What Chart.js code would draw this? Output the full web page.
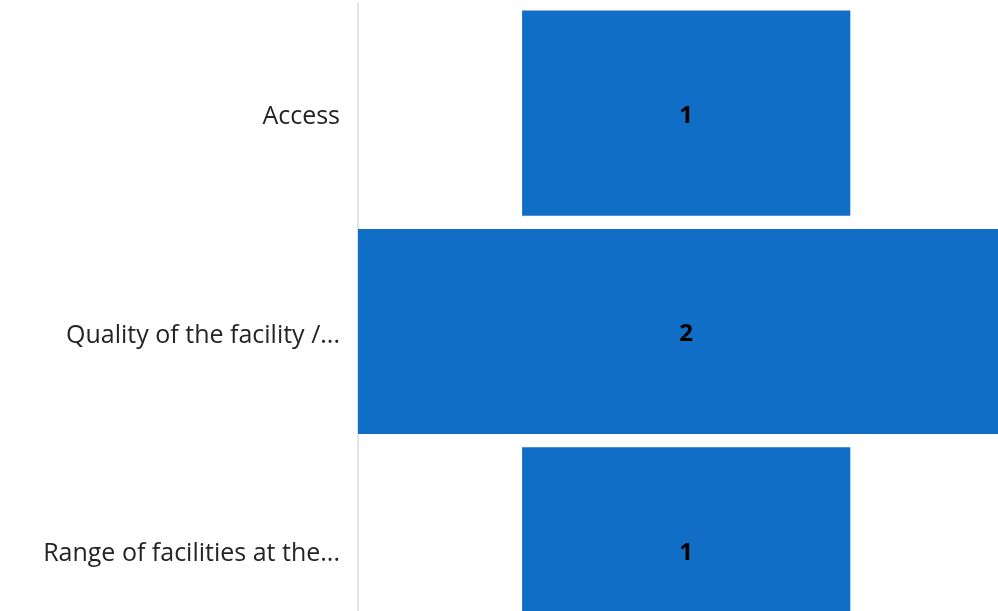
<!DOCTYPE html>
<html>
<head>
<meta charset="utf-8">
<script src="https://cdn.jsdelivr.net/npm/chart.js@4.4.0/dist/chart.umd.min.js"></script>
<style>
  html, body { margin: 0; padding: 0; background: #fff; overflow: hidden; }
  #wrap { width: 998px; height: 659px; position: relative; }
</style>
</head>
<body>
<div id="wrap"><canvas id="myChart"></canvas></div>
<script>
const categories = ['Access', 'Quality of the facility /...', 'Range of facilities at the...'];
const counts = [1, 2, 1];

const barColor = '#106ec6';
const fontFamily = "'Open Sans', 'Noto Sans', sans-serif";

// funnel: each bar is centred on zero
let floating = counts.map(v => [-v / 2, v / 2]);

// draw the count in the middle of each bar
const valueLabels = {
    id: 'valueLabels',
    afterDatasetsDraw(chart) {
        const ctx = chart.ctx;
        const meta = chart.getDatasetMeta(0);
        const xScale = chart.scales.x;
        ctx.save();
        ctx.font = "bold 24px " + fontFamily;
        ctx.fillStyle = '#000';
        ctx.textAlign = 'center';
        ctx.textBaseline = 'middle';
        meta.data.forEach((bar, i) => {
            ctx.fillText(String(counts[i]), xScale.getPixelForValue(0), bar.y + 3);
        });
        ctx.restore();
    }
};

const canvas = document.getElementById('myChart');
const config = {
    type: 'bar',
    data: {
        labels: categories,
        datasets: [{
            data: floating,
            backgroundColor: barColor,
            borderWidth: 0,
            categoryPercentage: 1,
            barPercentage: 0.94
        }]
    },
    options: {
        indexAxis: 'y',
        responsive: true,
        maintainAspectRatio: false,
        animation: false,
        layout: { padding: { top: 4, right: 0, bottom: 0, left: 0 } },
        plugins: {
            legend: { display: false },
            tooltip: { enabled: false }
        },
        scales: {
            x: {
                display: false,
                min: -1,
                max: 0.95
            },
            y: {
                afterFit(scale) {
                    scale.width = 358;
                    scale.paddingTop = 0;
                    scale.paddingBottom = 0;
                },
                grid: { display: false, drawTicks: false },
                border: { display: true, color: '#e3e3e3', width: 2 },
                ticks: {
                    color: '#252423',
                    padding: 18,
                    labelOffset: 4,
                    font: { family: fontFamily, size: 25 }
                }
            }
        }
    },
    plugins: [valueLabels]
};
let myChart = new Chart(canvas, config);
</script>
</body>
</html>
